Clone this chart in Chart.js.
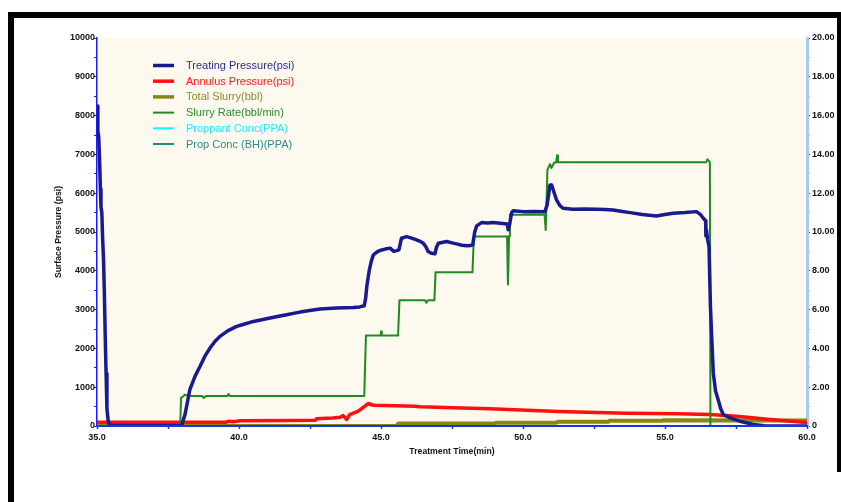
<!DOCTYPE html>
<html>
<head>
<meta charset="utf-8">
<script src="https://cdn.jsdelivr.net/npm/chart.js@4.4.1/dist/chart.umd.min.js"></script>
<style>
  html, body { margin: 0; padding: 0; background: #fff; }
  canvas { display: block; }
</style>
</head>
<body>
<canvas id="c" width="841" height="502"></canvas>
<script>
// Treating pressure (psi) against treatment time (min)
const treatingTime = [35.00,35.03,35.06,35.09,35.12,35.14,35.17,35.20,35.23,35.26,35.29,35.32,35.35,35.39,35.43,35.6,37.9,37.98,38.1,38.27,38.45,38.63,38.8,38.98,39.15,39.33,39.6,39.92,40.2,40.51,40.8,41.09,41.4,41.68,42.0,42.26,42.55,42.85,43.15,43.44,43.75,44.03,44.25,44.41,44.46,44.5,44.59,44.66,44.73,44.85,44.96,45.15,45.32,45.45,45.55,45.63,45.68,45.72,45.9,46.05,46.25,46.4,46.49,46.58,46.66,46.78,46.9,46.95,47.02,47.31,47.5,47.66,47.85,48.02,48.15,48.23,48.3,48.37,48.54,48.75,48.95,49.2,49.44,49.48,49.53,49.6,49.66,50.01,50.4,50.77,50.85,50.95,51.01,51.08,51.18,51.3,51.41,51.76,52.2,52.59,52.9,53.17,53.5,53.77,54.2,54.7,55.0,55.29,55.7,56.11,56.25,56.35,56.43,56.44,56.46,56.50,56.55,56.6,56.65,56.7,56.78,56.87,56.96,57.05,57.29,57.64,58.11,58.5,60.0];
const treatingPsi = [8250,7600,7450,6900,6100,5650,5500,4800,4300,3400,2300,1350,450,150,30,10,10,20,300,940,1280,1540,1800,2010,2180,2310,2450,2567,2630,2695,2740,2783,2830,2868,2915,2953,2985,3014,3030,3040,3050,3056,3070,3100,3300,3600,4025,4250,4411,4480,4522,4560,4584,4500,4520,4540,4700,4840,4882,4850,4797,4750,4711,4620,4496,4450,4437,4600,4711,4754,4720,4694,4660,4643,4650,4668,5000,5157,5242,5230,5242,5225,5208,5060,5200,5500,5550,5525,5530,5525,5700,6211,6211,6050,5826,5680,5612,5586,5595,5586,5580,5569,5530,5499,5450,5414,5450,5484,5500,5525,5450,5355,5290,4900,5050,4800,4625,3082,2200,1368,900,681,450,296,211,124,40,5,0];

// Annulus pressure (psi)
const annulusTime = [35.0,39.55,39.62,39.8,40.04,41.8,42.68,42.73,43.3,43.56,43.67,43.79,43.9,44.2,44.55,44.73,45.5,46.2,46.37,47.55,48.84,50.13,51.24,52.24,53.65,55.41,56.58,57.52,58.7,59.87,60.0];
const annulusPsi = [98,98,123,110,134,140,145,190,205,226,270,167,296,381,579,535,520,510,494,468,442,407,373,356,330,313,296,253,167,98,90];

// Total slurry (right axis)
const slurryTotalTime = [35.0,45.55,45.61,49.0,49.05,51.18,51.23,53.0,53.05,54.9,54.95,60.0];
const slurryTotal = [0,0,0.13,0.13,0.17,0.17,0.22,0.22,0.27,0.27,0.30,0.28];

// Slurry rate (bbl/min, right axis)
const rateTime = [35.0,37.93,37.96,38.05,38.1,38.2,38.7,38.75,38.85,39.6,39.63,39.68,44.41,44.47,44.98,45.0,45.03,45.6,45.65,46.55,46.6,46.65,46.88,46.92,48.22,48.27,49.44,49.47,49.51,49.54,50.76,50.8,50.86,50.95,51.0,51.1,51.17,51.2,51.23,56.45,56.5,56.58,56.6,60.0];
const rateBpm = [0,0,1.45,1.55,1.62,1.55,1.55,1.45,1.55,1.55,1.65,1.55,1.55,4.66,4.66,4.87,4.66,4.66,6.48,6.48,6.35,6.48,6.48,7.92,7.92,9.77,9.77,7.3,9.8,10.89,10.89,10.1,13.2,13.5,13.3,13.58,13.58,13.95,13.6,13.6,13.75,13.6,0,0];

// Proppant concentration (surface and bottom-hole), PPA
const propTime = [35.0,60.0];
const propConc = [0,0];
const propConcBH = [0,0];

// Axis ranges and tick labels
const timeRange = [35, 60];
const pressureRange = [0, 10000];
const rightRange = [0, 20];

const pts = (xs, ys) => xs.map((x, i) => ({ x, y: ys[i] }));

const FONT = "'Liberation Sans', Arial, sans-serif";
const AXIS_BLUE = '#1238e0';

// Page frame and plot background
const framePlugin = {
  id: 'frame',
  beforeDraw(chart) {
    const { ctx, chartArea: a } = chart;
    ctx.save();
    ctx.fillStyle = '#ffffff';
    ctx.fillRect(0, 0, chart.width, chart.height);
    ctx.fillStyle = '#fdf9ee';
    ctx.fillRect(a.left, a.top, a.right - a.left, a.bottom - a.top);
    ctx.fillStyle = '#000000';
    ctx.fillRect(8, 12, 833, 6);
    ctx.fillRect(8, 12, 6, 490);
    ctx.fillRect(837, 12, 4, 460);
    ctx.restore();
  }
};

// Legend drawn inside the plot area, one row per dataset
const legendTextColors = ['#2b2b99', '#ff1a1a', '#8b8b2b', '#2a8c2a', '#1ee8ff', '#2a8a8a'];
const insideLegend = {
  id: 'insideLegend',
  afterDraw(chart) {
    const { ctx, chartArea: a } = chart;
    ctx.save();
    ctx.font = '11px ' + FONT;
    ctx.textBaseline = 'middle';
    ctx.textAlign = 'left';
    chart.data.datasets.forEach((ds, i) => {
      const y = a.top + 27.5 + i * 15.7;
      ctx.strokeStyle = ds.borderColor;
      ctx.lineWidth = Math.min(ds.borderWidth, 3.5);
      ctx.beginPath();
      ctx.moveTo(a.left + 56, y);
      ctx.lineTo(a.left + 77, y);
      ctx.stroke();
      ctx.fillStyle = legendTextColors[i];
      ctx.fillText(ds.label, a.left + 89, y + 0.5);
    });
    ctx.restore();
  }
};

new Chart(document.getElementById('c'), {
  type: 'line',
  data: {
    datasets: [
      { label: 'Treating Pressure(psi)', data: pts(treatingTime, treatingPsi), yAxisID: 'y', borderColor: '#191990', borderWidth: 3.5, order: 0 },
      { label: 'Annulus Pressure(psi)', data: pts(annulusTime, annulusPsi), yAxisID: 'y', borderColor: '#ff1010', borderWidth: 3.5, order: 2 },
      { label: 'Total Slurry(bbl)', data: pts(slurryTotalTime, slurryTotal), yAxisID: 'y1', borderColor: '#878712', borderWidth: 4, order: 3 },
      { label: 'Slurry Rate(bbl/min)', data: pts(rateTime, rateBpm), yAxisID: 'y1', borderColor: '#1f8a1f', borderWidth: 2, order: 1 },
      { label: 'Proppant Conc(PPA)', data: pts(propTime, propConc), yAxisID: 'y1', borderColor: '#00ffff', borderWidth: 2, order: 4 },
      { label: 'Prop Conc (BH)(PPA)', data: pts(propTime, propConcBH), yAxisID: 'y1', borderColor: '#1a8a8a', borderWidth: 2, order: 5 }
    ]
  },
  options: {
    responsive: false,
    animation: false,
    devicePixelRatio: 1,
    layout: { padding: { left: 53, top: 38, right: 0, bottom: 45 } },
    elements: { point: { radius: 0 }, line: { tension: 0, borderCapStyle: 'round', borderJoinStyle: 'round' } },
    plugins: { legend: { display: false }, tooltip: { enabled: false } },
    scales: {
      x: {
        type: 'linear', position: 'bottom',
        min: timeRange[0], max: timeRange[1],
        afterFit: s => { s.height = 31; },
        border: { display: true, color: AXIS_BLUE, width: 2, z: 1 },
        grid: { display: true, drawOnChartArea: false, drawTicks: true, tickLength: 3, tickColor: AXIS_BLUE, tickWidth: 1.5 },
        ticks: {
          stepSize: 2.5, autoSkip: false, maxRotation: 0, padding: 3,
          color: '#111', font: { family: FONT, size: 9, weight: 'bold' },
          callback: v => (v % 5 === 0 ? v.toFixed(1) : '')
        },
        title: { display: true, text: 'Treatment Time(min)', color: '#111', padding: { top: 0, bottom: 0 }, font: { family: FONT, size: 8.7, weight: 'bold' } }
      },
      y: {
        type: 'linear', position: 'left',
        min: pressureRange[0], max: pressureRange[1],
        afterFit: s => { s.width = 44; },
        border: { display: true, color: '#1a1aff', width: 1.5 },
        grid: { display: true, drawOnChartArea: false, drawTicks: true, tickLength: 3, tickColor: '#1a1aff', tickWidth: 1.2 },
        ticks: {
          stepSize: 500, autoSkip: false, padding: -1,
          color: '#111', font: { family: FONT, size: 9, weight: 'bold' },
          callback: v => (v % 1000 === 0 ? String(v) : '')
        },
        title: { display: true, text: 'Surface Pressure (psi)', color: '#111', padding: { top: 0, bottom: 0 }, font: { family: FONT, size: 8.7, weight: 'bold' } }
      },
      y1: {
        type: 'linear', position: 'right',
        min: rightRange[0], max: rightRange[1],
        afterFit: s => { s.width = 34; },
        border: { display: true, color: '#abcaf2', width: 3 },
        grid: {
          display: true, drawOnChartArea: false, drawTicks: true, tickLength: 3,
          tickColor: ctx => (ctx.tick && ctx.tick.value % 2 === 0 ? '#1a3fe0' : 'rgba(70,100,240,0.55)'),
          tickWidth: 1.2
        },
        ticks: {
          stepSize: 1, autoSkip: false, padding: 2,
          color: '#111', font: { family: FONT, size: 9, weight: 'bold' },
          callback: v => (v === 0 ? '0' : (v % 2 === 0 ? v.toFixed(2) : ''))
        }
      }
    }
  },
  plugins: [framePlugin, insideLegend]
});
</script>
</body>
</html>
